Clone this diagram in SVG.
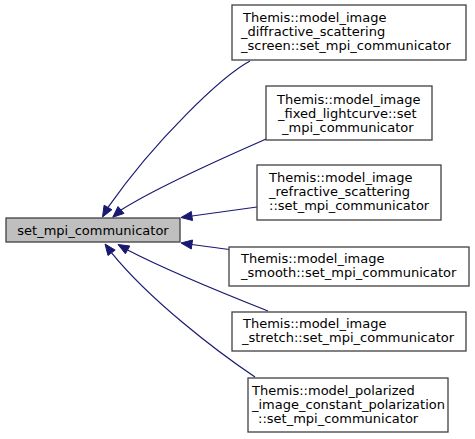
<svg xmlns="http://www.w3.org/2000/svg" width="475" height="439" viewBox="0 0 475 439">
<style>
.box{fill:#ffffff;stroke:#404040;stroke-width:1.3}
.main{fill:#bfbfbf;stroke:#404040;stroke-width:1.3}
text{font-family:"DejaVu Sans","Liberation Sans",sans-serif;font-size:13px;fill:#000}
.e{fill:none;stroke:#191970;stroke-width:1.2}
.a{fill:#191970;stroke:#191970;stroke-width:1}
</style>
<rect width="475" height="439" fill="#ffffff"/>
<g id="edges">
<path class="e" d="M250,61 C222,76 155,140 108,207.4"/>
<polygon class="a" points="102.5,217 104.1,205.2 111.9,209.7"/>
<path class="e" d="M266,139 C230,155 160,185 121,210"/>
<polygon class="a" points="112.7,217.3 118,206.6 124,213.4"/>
<path class="e" d="M257,207 C235,210 213,213 192,216"/>
<polygon class="a" points="181,217.5 191.3,211.5 192.5,220.5"/>
<path class="e" d="M229,249.5 C217,248 204,246 192,244.5"/>
<polygon class="a" points="181,243 192.5,240 191.3,249"/>
<path class="e" d="M268,311 C225,294 170,272 127.6,250"/>
<polygon class="a" points="118,244.5 129.8,246 125.4,253.8"/>
<path class="e" d="M255,377 C215,350 150,300 111.6,252.8"/>
<polygon class="a" points="105,244 115.2,250.1 108,255.5"/>
</g>
<g id="main">
<rect class="main" x="6" y="218" width="174" height="24"/>
<text x="93" y="235" text-anchor="middle">set_mpi_communicator</text>
</g>
<g id="n1">
<rect class="box" x="232" y="5" width="234" height="55"/>
<text x="243" y="22">Themis::model_image</text>
<text x="241" y="36">_diffractive_scattering</text>
<text x="241" y="50">_screen::set_mpi_communicator</text>
</g>
<g id="n2">
<rect class="box" x="266" y="86" width="166" height="54"/>
<text x="277" y="104">Themis::model_image</text>
<text x="278" y="118">_fixed_lightcurve::set</text>
<text x="282" y="132">_mpi_communicator</text>
</g>
<g id="n3">
<rect class="box" x="257" y="165" width="184" height="55"/>
<text x="269" y="182">Themis::model_image</text>
<text x="269" y="196">_refractive_scattering</text>
<text x="269" y="210">::set_mpi_communicator</text>
</g>
<g id="n4">
<rect class="box" x="229" y="247" width="240" height="39"/>
<text x="241" y="263">Themis::model_image</text>
<text x="241" y="277">_smooth::set_mpi_communicator</text>
</g>
<g id="n5">
<rect class="box" x="232" y="312" width="234" height="39"/>
<text x="243" y="328">Themis::model_image</text>
<text x="242" y="342">_stretch::set_mpi_communicator</text>
</g>
<g id="n6">
<rect class="box" x="248" y="378" width="200" height="54"/>
<text x="252" y="395">Themis::model_polarized</text>
<text x="252" y="409">_image_constant_polarization</text>
<text x="258" y="423">::set_mpi_communicator</text>
</g>
</svg>
